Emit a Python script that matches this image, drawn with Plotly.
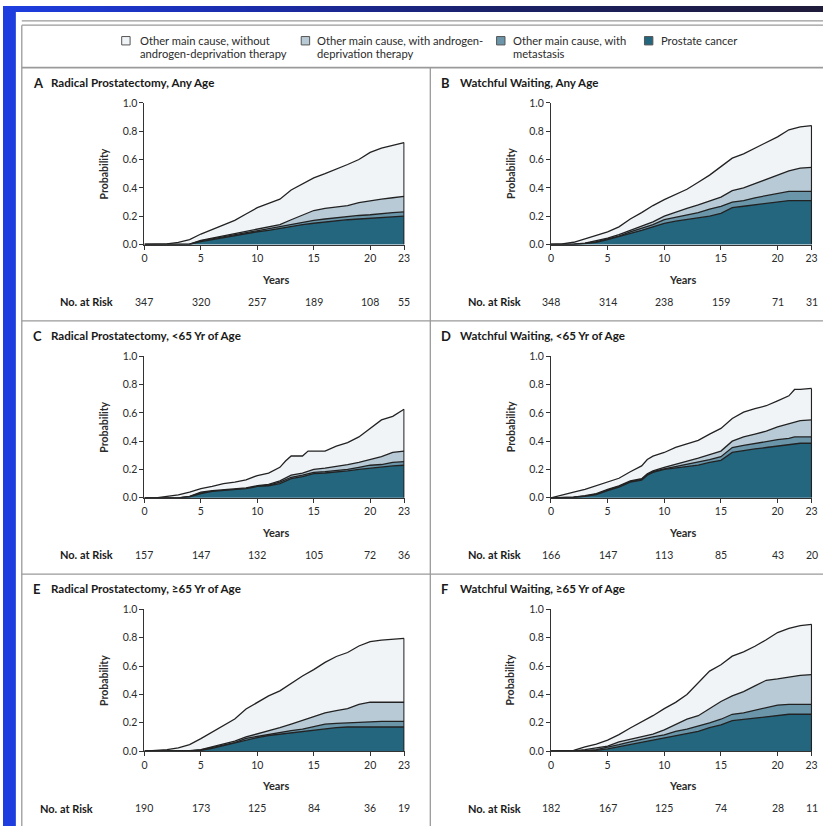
import base64
import plotly.graph_objects as go

W, H = 829, 832

# ---------------- data ----------------
years_ticks = [0, 5, 10, 15, 20, 23]
prob_ticks = [0.0, 0.2, 0.4, 0.6, 0.8, 1.0]

legend_labels = [
    ["Other main cause, without", "androgen-deprivation therapy"],
    ["Other main cause, with androgen-", "deprivation therapy"],
    ["Other main cause, with", "metastasis"],
    ["Prostate cancer"],
]

titles = [
    ("A", "Radical Prostatectomy, Any Age"),
    ("B", "Watchful Waiting, Any Age"),
    ("C", "Radical Prostatectomy, <65 Yr of Age"),
    ("D", "Watchful Waiting, <65 Yr of Age"),
    ("E", "Radical Prostatectomy, \u226565 Yr of Age"),
    ("F", "Watchful Waiting, \u226565 Yr of Age"),
]

risk_A = [347, 320, 257, 189, 108, 55]
risk_B = [348, 314, 238, 159, 71, 31]
risk_C = [157, 147, 132, 105, 72, 36]
risk_D = [166, 147, 113, 85, 43, 20]
risk_E = [190, 173, 125, 84, 36, 19]
risk_F = [182, 167, 125, 74, 28, 11]

# cumulative boundaries (stacked): top = all causes, adt, met, pc = prostate cancer
t_A = list(range(24))
top_A = [0, 0, 0.005, 0.015, 0.035, 0.074, 0.105, 0.14, 0.17, 0.215, 0.26, 0.29, 0.32, 0.385, 0.43, 0.47, 0.5, 0.53, 0.565, 0.6, 0.65, 0.68, 0.70, 0.72]
adt_A = [0, 0, 0, 0, 0.002, 0.03, 0.045, 0.06, 0.075, 0.095, 0.11, 0.125, 0.14, 0.175, 0.21, 0.24, 0.255, 0.265, 0.275, 0.295, 0.31, 0.32, 0.33, 0.34]
met_A = [0, 0, 0, 0, 0.002, 0.025, 0.04, 0.055, 0.07, 0.085, 0.1, 0.11, 0.125, 0.14, 0.155, 0.17, 0.18, 0.19, 0.2, 0.205, 0.21, 0.22, 0.225, 0.23]
pc_A = [0, 0, 0, 0, 0.001, 0.02, 0.035, 0.05, 0.065, 0.08, 0.09, 0.1, 0.115, 0.13, 0.14, 0.15, 0.16, 0.17, 0.175, 0.18, 0.185, 0.19, 0.195, 0.2]

t_B = list(range(24))
top_B = [0, 0.005, 0.016, 0.04, 0.067, 0.09, 0.125, 0.18, 0.225, 0.275, 0.317, 0.356, 0.39, 0.44, 0.49, 0.55, 0.61, 0.64, 0.68, 0.72, 0.76, 0.81, 0.83, 0.84]
adt_B = [0, 0, 0.002, 0.01, 0.025, 0.045, 0.07, 0.1, 0.13, 0.16, 0.2, 0.23, 0.255, 0.28, 0.31, 0.335, 0.38, 0.4, 0.43, 0.46, 0.495, 0.52, 0.54, 0.545]
met_B = [0, 0, 0.001, 0.008, 0.02, 0.04, 0.06, 0.09, 0.115, 0.14, 0.175, 0.19, 0.21, 0.225, 0.25, 0.27, 0.3, 0.31, 0.33, 0.345, 0.36, 0.375, 0.375, 0.375]
pc_B = [0, 0, 0.001, 0.006, 0.015, 0.035, 0.055, 0.08, 0.1, 0.125, 0.15, 0.165, 0.175, 0.185, 0.2, 0.22, 0.26, 0.27, 0.28, 0.29, 0.3, 0.31, 0.31, 0.31]

t_C = [0, 1, 2, 3, 4, 5, 6, 7, 8, 9, 10, 11, 12, 12.5, 13, 14, 14.5, 15, 16, 17, 18, 19, 20, 21, 22, 23]
top_C = [0, 0, 0.01, 0.02, 0.04, 0.065, 0.08, 0.1, 0.11, 0.127, 0.157, 0.175, 0.215, 0.26, 0.295, 0.295, 0.33, 0.33, 0.33, 0.365, 0.39, 0.43, 0.49, 0.55, 0.575, 0.625]
adt_C = [0, 0, 0, 0, 0.01, 0.04, 0.05, 0.055, 0.06, 0.07, 0.085, 0.095, 0.12, 0.14, 0.16, 0.175, 0.19, 0.2, 0.21, 0.22, 0.235, 0.25, 0.27, 0.29, 0.32, 0.33]
met_C = [0, 0, 0, 0, 0.008, 0.035, 0.045, 0.05, 0.055, 0.065, 0.08, 0.09, 0.11, 0.13, 0.145, 0.16, 0.17, 0.18, 0.185, 0.19, 0.2, 0.215, 0.23, 0.235, 0.25, 0.255]
pc_C = [0, 0, 0, 0, 0.006, 0.03, 0.045, 0.05, 0.055, 0.065, 0.08, 0.085, 0.1, 0.12, 0.135, 0.15, 0.16, 0.17, 0.175, 0.18, 0.19, 0.2, 0.21, 0.215, 0.225, 0.23]

t_D = [0, 1, 2, 3, 4, 5, 6, 7, 8, 8.5, 9, 10, 11, 12, 13, 14, 15, 16, 17, 18, 19, 20, 21, 21.5, 22, 23]
top_D = [0, 0.018, 0.04, 0.06, 0.087, 0.115, 0.138, 0.184, 0.225, 0.27, 0.294, 0.32, 0.356, 0.38, 0.405, 0.45, 0.49, 0.56, 0.605, 0.63, 0.65, 0.685, 0.72, 0.765, 0.765, 0.772]
adt_D = [0, 0, 0.005, 0.015, 0.03, 0.06, 0.085, 0.12, 0.135, 0.17, 0.19, 0.215, 0.235, 0.255, 0.28, 0.305, 0.33, 0.4, 0.43, 0.45, 0.47, 0.5, 0.52, 0.535, 0.545, 0.55]
met_D = [0, 0, 0.004, 0.012, 0.025, 0.055, 0.08, 0.115, 0.13, 0.165, 0.185, 0.205, 0.22, 0.235, 0.25, 0.27, 0.29, 0.355, 0.37, 0.385, 0.395, 0.41, 0.42, 0.43, 0.43, 0.43]
pc_D = [0, 0, 0.003, 0.01, 0.022, 0.05, 0.075, 0.11, 0.125, 0.16, 0.18, 0.2, 0.21, 0.22, 0.23, 0.25, 0.265, 0.32, 0.335, 0.345, 0.355, 0.365, 0.38, 0.385, 0.385, 0.385]

t_E = list(range(24))
top_E = [0, 0.003, 0.01, 0.023, 0.046, 0.088, 0.135, 0.18, 0.227, 0.297, 0.343, 0.39, 0.425, 0.478, 0.53, 0.575, 0.626, 0.668, 0.696, 0.742, 0.773, 0.784, 0.79, 0.796]
adt_E = [0, 0, 0, 0, 0.003, 0.01, 0.03, 0.05, 0.07, 0.1, 0.12, 0.14, 0.165, 0.19, 0.215, 0.24, 0.27, 0.285, 0.3, 0.33, 0.345, 0.345, 0.345, 0.345]
met_E = [0, 0, 0, 0, 0.002, 0.008, 0.025, 0.045, 0.06, 0.09, 0.105, 0.12, 0.135, 0.145, 0.155, 0.17, 0.19, 0.195, 0.2, 0.205, 0.21, 0.21, 0.21, 0.21]
pc_E = [0, 0, 0, 0, 0.001, 0.005, 0.02, 0.04, 0.055, 0.08, 0.095, 0.11, 0.12, 0.125, 0.135, 0.145, 0.16, 0.165, 0.17, 0.17, 0.17, 0.17, 0.17, 0.17]

t_F = list(range(24))
top_F = [0, 0, 0.005, 0.03, 0.05, 0.077, 0.116, 0.163, 0.205, 0.25, 0.3, 0.344, 0.4, 0.48, 0.565, 0.61, 0.67, 0.7, 0.74, 0.786, 0.837, 0.867, 0.886, 0.895]
adt_F = [0, 0, 0.002, 0.01, 0.02, 0.035, 0.065, 0.085, 0.1, 0.12, 0.15, 0.19, 0.225, 0.25, 0.3, 0.35, 0.39, 0.42, 0.46, 0.5, 0.51, 0.525, 0.535, 0.54]
met_F = [0, 0, 0, 0.004, 0.01, 0.025, 0.045, 0.065, 0.085, 0.1, 0.115, 0.14, 0.155, 0.175, 0.2, 0.225, 0.26, 0.27, 0.29, 0.31, 0.325, 0.33, 0.33, 0.33]
pc_F = [0, 0, 0, 0.002, 0.005, 0.015, 0.03, 0.05, 0.065, 0.08, 0.095, 0.11, 0.125, 0.14, 0.165, 0.185, 0.215, 0.225, 0.235, 0.245, 0.255, 0.26, 0.26, 0.26]

# ---------------- styling ----------------
FONT = "Lato, 'Open Sans', 'DejaVu Sans', sans-serif"
C_TOP = "#f0f4f7"
C_ADT = "#b8cad5"
C_MET = "#6b96aa"
C_PC = "#23667e"
LEG_COLORS = [C_TOP, C_ADT, C_MET, C_PC]
LINE = "#222222"
GRAY = "#9a9a9a"
TXT = "#2b2b2b"


def px(x):
    return x / W


def py(y):
    return 1 - y / H


panels = [
    dict(t=t_A, top=top_A, adt=adt_A, met=met_A, pc=pc_A, risk=risk_A),
    dict(t=t_B, top=top_B, adt=adt_B, met=met_B, pc=pc_B, risk=risk_B),
    dict(t=t_C, top=top_C, adt=adt_C, met=met_C, pc=pc_C, risk=risk_C),
    dict(t=t_D, top=top_D, adt=adt_D, met=met_D, pc=pc_D, risk=risk_D),
    dict(t=t_E, top=top_E, adt=adt_E, met=met_E, pc=pc_E, risk=risk_E),
    dict(t=t_F, top=top_F, adt=adt_F, met=met_F, pc=pc_F, risk=risk_F),
]

# pixel layout
col_x = [(143, 406), (554, 818)]
row_y = [(98, 242), (355, 499), (612, 756)]
col_left = [19, 432]
row_top = [63, 319.5, 576.5]

fig = go.Figure()
layout = dict(
    width=W, height=H, margin=dict(l=0, r=0, t=0, b=0),
    paper_bgcolor="white", plot_bgcolor="rgba(0,0,0,0)",
    showlegend=False, font=dict(family=FONT, color=TXT),
)

annotations = []
shapes = []

for i, p in enumerate(panels):
    r, c = divmod(i, 2)
    n = i + 1
    xa = "x" if n == 1 else f"x{n}"
    ya = "y" if n == 1 else f"y{n}"
    x0p, x1p = col_x[c]
    y0p, y1p = row_y[r]
    layout["xaxis" if n == 1 else f"xaxis{n}"] = dict(
        domain=[px(x0p), px(x1p)], anchor=ya, range=[0, 23.05],
        tickvals=years_ticks, ticks="outside", ticklen=4, tickwidth=1, tickcolor="#333",
        showline=True, linecolor="#333", linewidth=1, showgrid=False, zeroline=False,
        tickfont=dict(size=10.5, color=TXT, family=FONT), fixedrange=True,
    )
    layout["yaxis" if n == 1 else f"yaxis{n}"] = dict(
        domain=[py(y1p), py(y0p)], anchor=xa, range=[0, 1.002],
        tickvals=prob_ticks, tickformat=".1f", ticks="outside", ticklen=4, tickwidth=1,
        tickcolor="#333", showline=True, linecolor="#333", linewidth=1, showgrid=False,
        zeroline=False, tickfont=dict(size=10.5, color=TXT, family=FONT), fixedrange=True,
    )
    for key, col in [("top", C_TOP), ("adt", C_ADT), ("met", C_MET), ("pc", C_PC)]:
        fig.add_trace(go.Scatter(
            x=p["t"], y=p[key], mode="lines", fill="tozeroy", fillcolor=col,
            line=dict(color=LINE, width=1.3), xaxis=xa, yaxis=ya, hoverinfo="skip",
        ))
    # right edge of the stacked areas at last follow-up time
    fig.add_trace(go.Scatter(
        x=[p["t"][-1], p["t"][-1]], y=[0, p["top"][-1]], mode="lines",
        line=dict(color=LINE, width=1.3), xaxis=xa, yaxis=ya, hoverinfo="skip",
    ))

    # panel title
    ty = row_top[r] + 15
    letter, title = titles[i]
    lx = col_left[c] + 9
    annotations.append(dict(text=f"<b>{letter}</b>", x=px(lx), y=py(ty), xref="paper", yref="paper",
                            xanchor="left", yanchor="middle", showarrow=False,
                            font=dict(size=13, family=FONT, color="#1a1a1a")))
    annotations.append(dict(text=f"<b>{title}</b>", x=px(lx + 18 + (1 if c else 0)), y=py(ty), xref="paper",
                            yref="paper", xanchor="left", yanchor="middle", showarrow=False,
                            font=dict(size=11.6, family=FONT, color="#1a1a1a")))
    # y title
    annotations.append(dict(text="<b>Probability</b>", x=px(x0p - 41), y=py((y0p + y1p) / 2),
                            xref="paper", yref="paper", textangle=-90, showarrow=False,
                            xanchor="center", yanchor="middle",
                            font=dict(size=10.5, family=FONT, color=TXT)))
    # x title
    annotations.append(dict(text="<b>Years</b>", x=px((x0p + x1p) / 2 + 1), y=py(y1p + 35),
                            xref="paper", yref="paper", showarrow=False,
                            xanchor="center", yanchor="middle",
                            font=dict(size=11, family=FONT, color=TXT)))
    # number at risk
    ry = y1p + 58
    nar_right = 93 if i == 4 else (113 if c == 0 else 526)
    annotations.append(dict(text="<b>No. at Risk</b>", x=px(nar_right), y=py(ry), xref="paper",
                            yref="paper", xanchor="right", yanchor="middle", showarrow=False,
                            font=dict(size=11, family=FONT, color="#1a1a1a")))
    for xv, nv in zip(years_ticks, p["risk"]):
        annotations.append(dict(text=str(nv), x=xv, y=py(ry), xref=xa, yref="paper",
                                xanchor="center", yanchor="middle", showarrow=False,
                                font=dict(size=10.5, family=FONT, color=TXT)))

# ---------------- frame, dividers ----------------
def hline(y, x0, x1, w=1.3, color=GRAY):
    shapes.append(dict(type="line", xref="paper", yref="paper", x0=px(x0), x1=px(x1),
                       y0=py(y), y1=py(y), line=dict(color=color, width=w)))


def vline(x, y0, y1, w=1.3, color=GRAY):
    shapes.append(dict(type="line", xref="paper", yref="paper", x0=px(x), x1=px(x),
                       y0=py(y0), y1=py(y1), line=dict(color=color, width=w)))


# white content area
shapes.append(dict(type="rect", xref="paper", yref="paper", x0=px(13), x1=1, y0=0, y1=py(6),
                   fillcolor="white", line=dict(width=0), layer="below"))
hline(15, 19, 829)
hline(19.5, 19, 829)
vline(19, 19.5, 832)
hline(62.5, 19, 829, w=1.8)
vline(432, 62.5, 832)
hline(319.5, 19, 829)
hline(576.5, 19, 829)

# ---------------- legend ----------------
leg_sq_x = [120, 301.5, 499, 648.5]
leg_txt_x = [136, 315, 514, 663]
for k in range(4):
    shapes.append(dict(type="rect", xref="paper", yref="paper", x0=px(leg_sq_x[k]),
                       x1=px(leg_sq_x[k] + 8.5), y0=py(39.5), y1=py(31),
                       fillcolor=LEG_COLORS[k], line=dict(color="#555", width=1)))
    for j, line_txt in enumerate(legend_labels[k]):
        annotations.append(dict(text=line_txt, x=px(leg_txt_x[k]), y=py(35 + 13 * j),
                                xref="paper", yref="paper", xanchor="left", yanchor="middle",
                                showarrow=False, font=dict(size=11.2, family=FONT, color=TXT)))

# background gradient (slide background around the figure)
svg = (
    '<svg xmlns="http://www.w3.org/2000/svg" width="829" height="832">'
    '<defs><linearGradient id="g" x1="0" y1="0" x2="1" y2="0">'
    '<stop offset="0" stop-color="#1e3ee0"/><stop offset="0.3" stop-color="#1b2cab"/>'
    '<stop offset="0.6" stop-color="#1a2168"/><stop offset="1" stop-color="#1f1b3a"/>'
    '</linearGradient></defs><rect width="829" height="832" fill="url(#g)"/></svg>'
)
src = "data:image/svg+xml;base64," + base64.b64encode(svg.encode()).decode()
layout["images"] = [dict(source=src, xref="paper", yref="paper", x=0, y=1, sizex=1, sizey=1,
                         sizing="stretch", layer="below", xanchor="left", yanchor="top")]

layout["annotations"] = annotations
layout["shapes"] = shapes
fig.update_layout(**layout)
fig.write_html("out.html")
